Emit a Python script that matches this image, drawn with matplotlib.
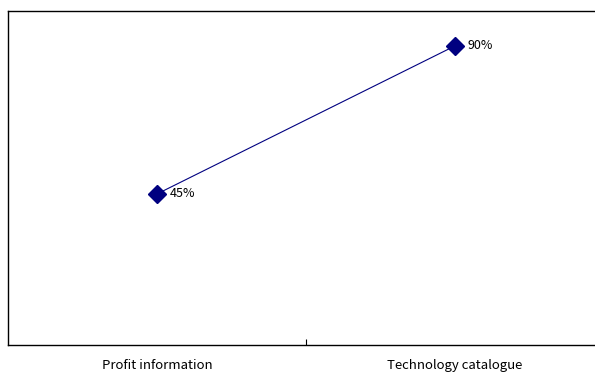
import matplotlib
matplotlib.use('Agg')
import matplotlib.pyplot as plt

plt.rcParams['font.family'] = ['Noto Sans CJK JP', 'DejaVu Sans']

categories = ['Profit information', 'Technology catalogue']
values = [45, 90]
value_labels = ['45%', '90%']

fig = plt.figure(figsize=(5.95, 3.72), dpi=100)
ax = fig.add_axes([8 / 595, 27 / 372, 596 / 595, 334 / 372])

x = [0, 1]
ax.plot(x, values, color='#000080', linewidth=0.8, marker='D',
        markersize=9, markerfacecolor='#000080', markeredgecolor='#000080')

for xi, v, lbl in zip(x, values, value_labels):
    ax.annotate(lbl, (xi, v), xytext=(9, 0), textcoords='offset points',
                ha='left', va='center', fontsize=9, color='black')

ax.set_xlim(-0.5, 1.5)
ax.set_ylim(-0.9, 100.6)

ax.set_xticks([0.5])
ax.set_xticklabels([''])
ax.tick_params(axis='x', direction='in', length=4, width=0.8, color='black')
ax.set_yticks([])

for xi, cat in zip(x, categories):
    ax.text(xi, -0.062, cat, transform=ax.get_xaxis_transform(),
            ha='center', va='center', fontsize=9.5, color='black')

for side in ['left', 'top', 'bottom']:
    ax.spines[side].set_linewidth(1.0)
    ax.spines[side].set_color('black')
ax.spines['right'].set_visible(False)

fig.savefig('out.png', dpi=100)
